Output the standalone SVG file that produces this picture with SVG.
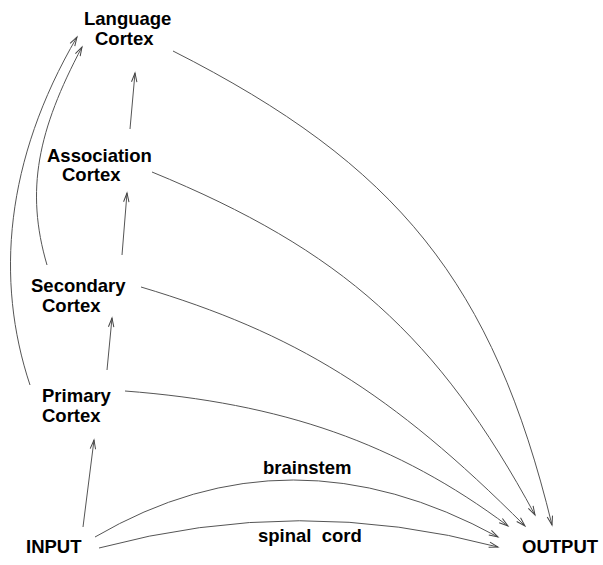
<svg xmlns="http://www.w3.org/2000/svg" width="603" height="565" viewBox="0 0 603 565">
<style>
text{font-family:"Liberation Sans",Arial,sans-serif;font-weight:bold;font-size:18.5px;fill:#000}
.e{fill:none;stroke:#555;stroke-width:1;marker-end:url(#ah)}
</style>
<defs>
<marker id="ah" markerUnits="userSpaceOnUse" markerWidth="12" markerHeight="8" refX="10" refY="4" orient="auto">
<path d="M1,1.3 L10,4 L1,6.7" fill="none" stroke="#444" stroke-width="1"/>
</marker>
</defs>
<rect width="603" height="565" fill="#fff"/>
<g id="connectors">
<path class="e" d="M83,527 L94,440"/>
<path class="e" d="M107,370 L112,318"/>
<path class="e" d="M122,255 L127,193"/>
<path class="e" d="M130,129 L135,73"/>
<path class="e" d="M47,265 C25,190 38,130 82,47"/>
<path class="e" d="M30,385 C-5,280 5,160 77,37"/>
<path class="e" d="M173,51 C398,165 493,283 552,525"/>
<path class="e" d="M152,172 C342,250 438,336 535,515"/>
<path class="e" d="M141,287 C295,333 391,392 525,526"/>
<path class="e" d="M125,391 C282,403 397,443 508,526"/>
<path class="e" d="M95,537 Q290,423 498,537"/>
<path class="e" d="M99,548 Q300,494 498,547"/>
</g>
<g id="language"><text x="84" y="25">Language</text><text x="95" y="45">Cortex</text></g>
<g id="association"><text x="47" y="162">Association</text><text x="62" y="181">Cortex</text></g>
<g id="secondary"><text x="31" y="292">Secondary</text><text x="42" y="312">Cortex</text></g>
<g id="primary"><text x="42" y="402">Primary</text><text x="42" y="422">Cortex</text></g>
<g id="input"><text x="26" y="553">INPUT</text></g>
<g id="output"><text x="522" y="553">OUTPUT</text></g>
<g id="labels"><text x="263" y="474">brainstem</text><text x="258" y="542" style="white-space:pre">spinal  cord</text></g>
</svg>
